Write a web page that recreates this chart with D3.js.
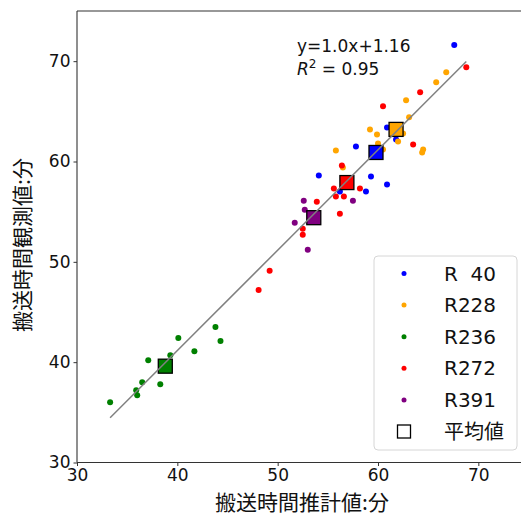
<!DOCTYPE html>
<html>
<head>
<meta charset="utf-8">
<script src="https://cdn.jsdelivr.net/npm/d3@7"></script>
<style>
  body { margin: 0; background: #fff; }
  text { font-family: "DejaVu Sans", "Noto Sans CJK JP", sans-serif; fill: #111; }
  .jp { font-family: "Noto Sans CJK JP", sans-serif; }
</style>
</head>
<body>
<svg id="canvas" width="521" height="516"></svg>
<script>
// route names and colours
const routes = ["R  40", "R228", "R236", "R272", "R391"];
const colors = ["blue", "orange", "green", "red", "purple"];

// estimated (x) vs observed (y) transport times, minutes
const r40X = [67.6, 60.9, 61.8, 57.8, 59.3, 60.9, 58.8, 56.2, 54.1];
const r40Y = [71.6, 63.4, 62.2, 61.5, 58.5, 57.7, 57.0, 57.0, 58.6];
const r228X = [66.8, 65.8, 62.8, 63.1, 59.2, 59.9, 62.5, 62.0, 64.5, 64.4, 60.5, 60.0, 55.8, 56.5];
const r228Y = [68.9, 67.9, 66.1, 64.4, 63.2, 62.7, 62.8, 62.0, 61.2, 60.9, 61.2, 61.8, 61.1, 59.4];
const r236X = [33.3, 35.9, 36.0, 36.5, 37.1, 39.3, 38.3, 40.1, 41.7, 43.8, 44.3];
const r236Y = [36.0, 37.2, 36.7, 38.0, 40.2, 40.7, 37.8, 42.4, 41.1, 43.5, 42.1];
const r272X = [68.8, 64.2, 60.5, 63.5, 56.4, 58.2, 55.6, 55.8, 56.6, 53.9, 56.2, 52.5, 52.5, 49.2, 48.1];
const r272Y = [69.4, 66.9, 65.5, 61.7, 59.6, 57.3, 57.3, 56.5, 56.5, 56.0, 54.8, 53.3, 52.7, 49.1, 47.2];
const r391X = [57.5, 52.6, 52.7, 51.7, 53.0];
const r391Y = [56.1, 56.1, 55.2, 53.9, 51.2];

// per-route averages (squares)
const meanX = [59.8, 61.8, 38.8, 56.9, 53.6];
const meanY = [60.9, 63.2, 39.6, 57.9, 54.4];

// regression
const slope = 1.0;
const intercept = 1.16;
const r2 = 0.95;

const xTicks = [30, 40, 50, 60, 70];
const yTicks = [30, 40, 50, 60, 70];

const seriesX = [r40X, r228X, r236X, r272X, r391X];
const seriesY = [r40Y, r228Y, r236Y, r272Y, r391Y];

const svg = d3.select('#canvas');
const plotLeft = 77, plotTop = 11, plotBottom = 462.5;
const unit = (plotBottom - plotTop) / 45;

const x = d3.scaleLinear().domain([30, 75]).range([plotLeft, plotLeft + 45 * unit]);
const y = d3.scaleLinear().domain([30, 75]).range([plotBottom, plotTop]);

// points
const pts = [];
routes.forEach((r, i) => {
    seriesX[i].forEach((v, j) => pts.push({x: v, y: seriesY[i][j], c: colors[i]}));
});
svg.append('g').selectAll('circle')
    .data(pts)
    .enter().append('circle')
    .attr('cx', d => x(d.x))
    .attr('cy', d => y(d.y))
    .attr('r', 3)
    .attr('fill', d => d.c);

// averages
const sq = 14;
svg.append('g').selectAll('rect')
    .data(routes)
    .enter().append('rect')
    .attr('x', (d, i) => x(meanX[i]) - sq / 2)
    .attr('y', (d, i) => y(meanY[i]) - sq / 2)
    .attr('width', sq)
    .attr('height', sq)
    .attr('fill', (d, i) => colors[i])
    .attr('stroke', '#000')
    .attr('stroke-width', 1.3);

// regression line over data range
const allX = pts.map(d => d.x);
const x0 = d3.min(allX), x1 = d3.max(allX);
svg.append('line')
    .attr('x1', x(x0)).attr('y1', y(slope * x0 + intercept))
    .attr('x2', x(x1)).attr('y2', y(slope * x1 + intercept))
    .attr('stroke', 'gray')
    .attr('stroke-width', 1.5);

// axes
const xAxis = svg.append('g')
    .attr('transform', `translate(0,${plotBottom})`)
    .call(d3.axisBottom(x).tickValues(xTicks).tickSize(3.5).tickPadding(3));
const yAxis = svg.append('g')
    .attr('transform', `translate(${plotLeft},0)`)
    .call(d3.axisLeft(y).tickValues(yTicks).tickSize(3.5).tickPadding(3));
[xAxis, yAxis].forEach(a => {
    a.selectAll('text').style('font-size', '17px').style('font-family', '"DejaVu Sans"').attr('fill', '#111');
    a.selectAll('line').attr('stroke', '#333');
    a.select('.domain').remove();
});

// spines
svg.append('line').attr('x1', plotLeft).attr('y1', plotTop).attr('x2', plotLeft).attr('y2', plotBottom)
    .attr('stroke', '#333').attr('stroke-width', 1.1);
svg.append('line').attr('x1', plotLeft).attr('y1', plotBottom).attr('x2', 521).attr('y2', plotBottom)
    .attr('stroke', '#333').attr('stroke-width', 1.1);
svg.append('line').attr('x1', plotLeft).attr('y1', plotTop).attr('x2', 521).attr('y2', plotTop)
    .attr('stroke', '#333').attr('stroke-width', 1.1);

// axis titles
svg.append('text')
    .attr('class', 'jp')
    .attr('x', 302).attr('y', 510)
    .attr('text-anchor', 'middle')
    .style('font-size', '21px')
    .text('搬送時間推計値:分');
svg.append('text')
    .attr('class', 'jp')
    .attr('transform', 'translate(30,245) rotate(-90)')
    .attr('text-anchor', 'middle')
    .style('font-size', '21px')
    .text('搬送時間観測値:分');

// equation
svg.append('text')
    .attr('x', 297).attr('y', 51.5)
    .style('font-size', '17px')
    .text(`y=${slope.toFixed(1)}x+${intercept}`);
const rt = svg.append('text')
    .attr('x', 297).attr('y', 75)
    .style('font-size', '17px');
rt.append('tspan').style('font-style', 'italic').text('R');
rt.append('tspan').attr('dy', -7).style('font-size', '12px').text('2');
rt.append('tspan').attr('dy', 7).text(` = ${r2}`);

// legend
const lg = svg.append('g');
lg.append('rect')
    .attr('x', 374).attr('y', 256).attr('width', 143).attr('height', 194)
    .attr('rx', 4)
    .attr('fill', 'rgba(255,255,255,0.85)')
    .attr('stroke', '#d6d6d6');
const rowY = d3.scaleLinear().domain([0, 5]).range([273.5, 431.5]);
routes.forEach((r, i) => {
    lg.append('circle').attr('cx', 404).attr('cy', rowY(i)).attr('r', 2.5).attr('fill', colors[i]);
    lg.append('text').attr('x', 444).attr('y', rowY(i)).attr('dy', '0.35em')
        .style('font-size', '20px').style('white-space', 'pre').attr('xml:space', 'preserve')
        .text(r);
});
lg.append('rect').attr('x', 404 - 6.5).attr('y', rowY(5) - 6.5).attr('width', 13).attr('height', 13)
    .attr('fill', 'none').attr('stroke', '#000').attr('stroke-width', 1.3);
lg.append('text').attr('class', 'jp').attr('x', 444).attr('y', rowY(5)).attr('dy', '0.35em')
    .style('font-size', '20px').text('平均値');
</script>
</body>
</html>
